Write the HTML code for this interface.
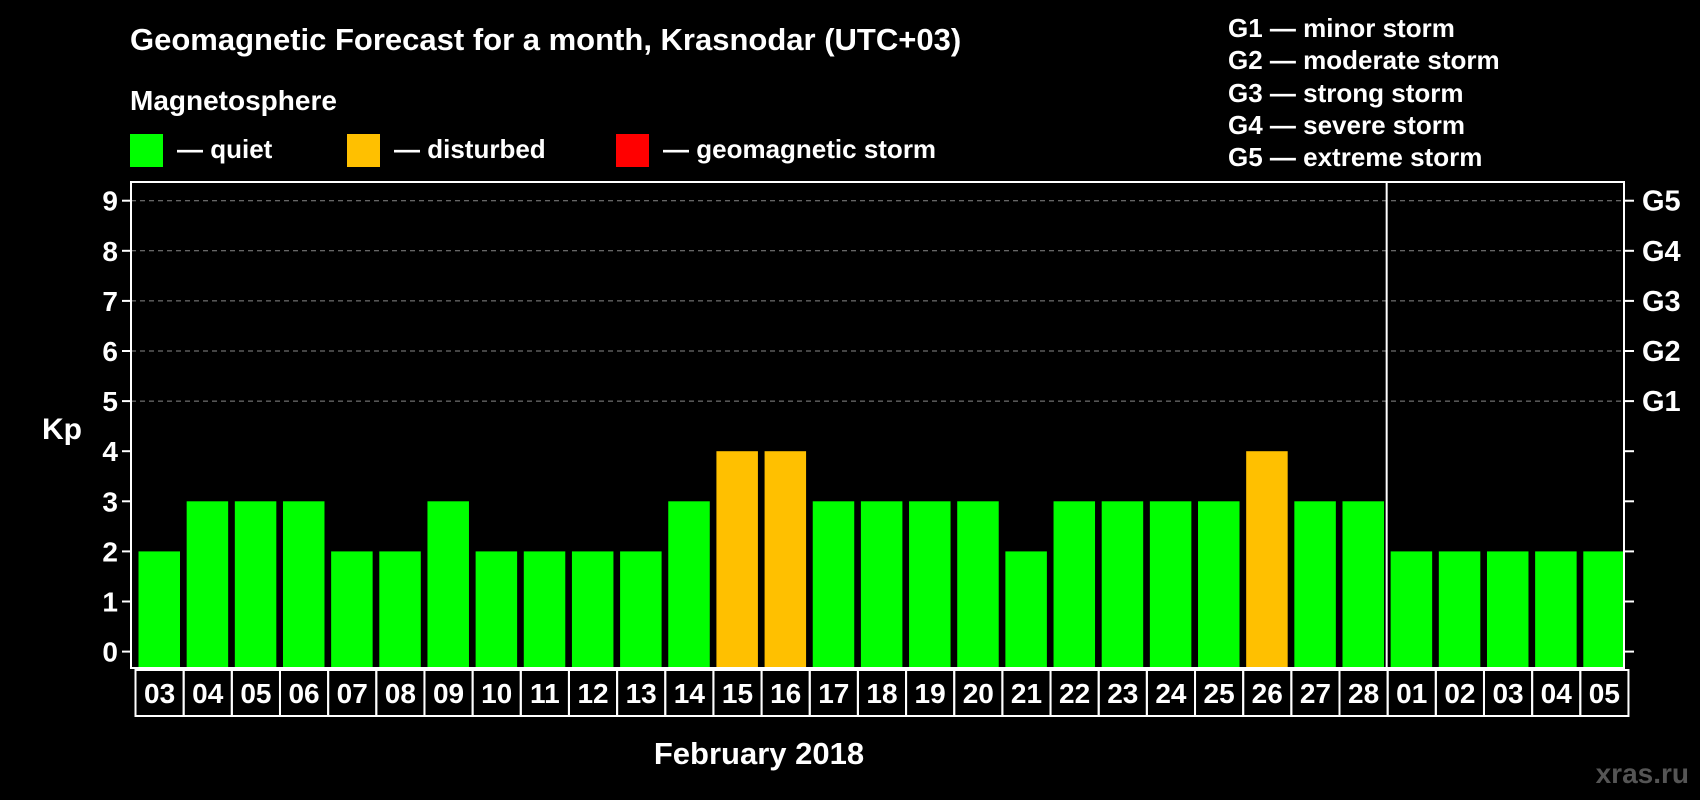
<!DOCTYPE html>
<html><head><meta charset="utf-8"><style>
html,body{margin:0;padding:0;background:#000;}
svg{display:block;font-family:"Liberation Sans",Arial,sans-serif;font-weight:bold;}
</style></head><body>
<svg id="c" width="1700" height="800" viewBox="0 0 1700 800">
<text x="130" y="50" fill="#fff" font-size="31">Geomagnetic Forecast for a month, Krasnodar (UTC+03)</text>
<text x="130" y="110" fill="#fff" font-size="28">Magnetosphere</text>
<g><rect x="130" y="134" width="33" height="33" fill="#00ff00"/><text x="177" y="158" fill="#fff" font-size="26">— quiet</text></g>
<g><rect x="347" y="134" width="33" height="33" fill="#ffc000"/><text x="394" y="158" fill="#fff" font-size="26">— disturbed</text></g>
<g><rect x="616" y="134" width="33" height="33" fill="#ff0000"/><text x="663" y="158" fill="#fff" font-size="26">— geomagnetic storm</text></g>
<g fill="#fff" font-size="26">
<text x="1228" y="37">G1 — minor storm</text>
<text x="1228" y="69">G2 — moderate storm</text>
<text x="1228" y="102">G3 — strong storm</text>
<text x="1228" y="134">G4 — severe storm</text>
<text x="1228" y="166">G5 — extreme storm</text>
</g>
<text x="42" y="439" fill="#fff" font-size="30">Kp</text>
<text x="759" y="764" fill="#fff" font-size="31" text-anchor="middle">February 2018</text>
<text x="1689" y="783" fill="#555" font-size="28" text-anchor="end">xras.ru</text>
<g id="plot"></g>
</svg>
<script>
const days=["03","04","05","06","07","08","09","10","11","12","13","14","15","16","17","18","19","20","21","22","23","24","25","26","27","28","01","02","03","04","05"];
const kp=[2,3,3,3,2,2,3,2,2,2,2,3,4,4,3,3,3,3,2,3,3,3,3,4,3,3,2,2,2,2,2];
const yTicks=[0,1,2,3,4,5,6,7,8,9];
const gLabels=["G1","G2","G3","G4","G5"];
const gLevels=[5,6,7,8,9];
const NS="http://www.w3.org/2000/svg";
const L=131,R=1624,T=182,B=668,x0=134.5,slot=48.16;
const y=v=>651.6-v*50.1;
const xs=i=>x0+i*slot;
const g=document.getElementById('plot');
function mk(t,a){const e=document.createElementNS(NS,t);for(const k in a)e.setAttribute(k,a[k]);g.appendChild(e);return e;}
gLevels.forEach(v=>{const e=mk('line',{x1:L,x2:R,y1:y(v),y2:y(v),stroke:'#888','stroke-width':1,'stroke-dasharray':'5,4'});

});
kp.forEach((v,i)=>{const e=mk('rect',{x:xs(i)+4,y:y(v),width:41.5,height:B-y(v),fill:v>=5?'#ff0000':(v>=4?'#ffc000':'#00ff00')});

});
yTicks.forEach(v=>{
const t1=mk('line',{x1:122,x2:L,y1:y(v),y2:y(v),stroke:'#fff','stroke-width':2});


const t2=mk('line',{x1:R,x2:1634,y1:y(v),y2:y(v),stroke:'#fff','stroke-width':2});


const tx=mk('text',{x:118,y:y(v)+10,fill:'#fff','font-size':28,'text-anchor':'end'});tx.textContent=v;

});
gLabels.forEach((s,i)=>{const tx=mk('text',{x:1642,y:y(gLevels[i])+10,fill:'#fff','font-size':29});tx.textContent=s;

});
const fr=mk('rect',{x:L,y:T,width:R-L,height:B-T,fill:'none',stroke:'#fff','stroke-width':2});


const dv=mk('line',{x1:xs(26),x2:xs(26),y1:T,y2:B,stroke:'#fff','stroke-width':2});


days.forEach((d,i)=>{
const r=mk('rect',{x:xs(i)+1,y:670,width:slot,height:46,fill:'none',stroke:'#fff','stroke-width':2});


const tx=mk('text',{x:xs(i)+1+slot/2,y:703,fill:'#fff','font-size':28,'text-anchor':'middle'});tx.textContent=d;

});
</script>
</body></html>
